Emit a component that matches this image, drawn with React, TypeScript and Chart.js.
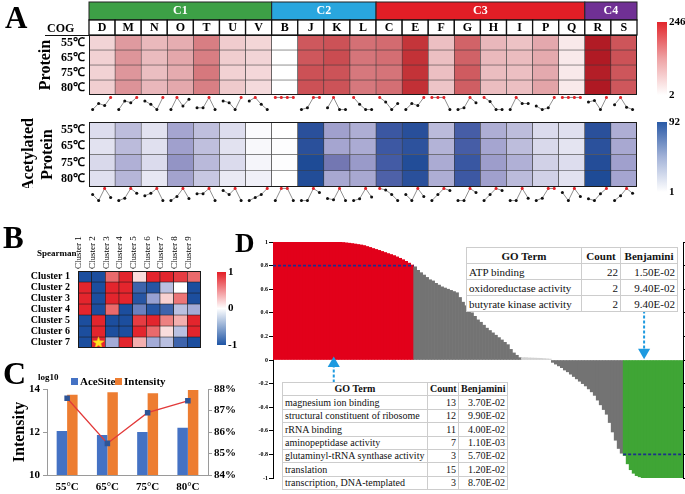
import React, { useEffect, useRef } from 'react';
import { Chart, registerables } from 'chart.js';

Chart.register(...registerables);

const SERIF = "'Liberation Serif', 'Times New Roman', serif";
Chart.defaults.font.family = SERIF;
Chart.defaults.color = '#000';
Chart.defaults.layout.autoPadding = false;

// ---------------- Panel A data ----------------
const cogGroupNames = ['C1', 'C2', 'C3', 'C4'];
const cogGroupColors = ['#3DA046', '#29A6DE', '#E21E26', '#703094'];
const cogLetters = ['D', 'M', 'N', 'O', 'T', 'U', 'V', 'B', 'J', 'K', 'L', 'C', 'E', 'F', 'G', 'H', 'I', 'P', 'Q', 'R', 'S'];
const cogGroupIndex = [0, 0, 0, 0, 0, 0, 0, 1, 1, 1, 1, 2, 2, 2, 2, 2, 2, 2, 2, 3, 3];
const tempLabels = ['55℃', '65℃', '75℃', '80℃'];
const proteinRange = [2, 246];
const acetylRange = [1, 92];
// [COG][55,65,75,80]
const proteinValues = [
  [49, 52, 51, 55],
  [108, 113, 112, 115],
  [76, 74, 71, 78],
  [88, 95, 90, 94],
  [134, 134, 140, 133],
  [57, 56, 52, 59],
  [47, 49, 45, 42],
  [2, 2, 2, 2],
  [170, 171, 177, 177],
  [176, 182, 175, 175],
  [147, 143, 140, 140],
  [152, 149, 144, 148],
  [206, 209, 208, 212],
  [70, 70, 70, 65],
  [160, 161, 167, 164],
  [78, 76, 72, 72],
  [67, 73, 70, 70],
  [93, 91, 92, 98],
  [26, 26, 26, 26],
  [243, 244, 238, 246],
  [173, 176, 172, 171],
];
const acetylValues = [
  [15, 13, 17, 14],
  [31, 32, 36, 34],
  [13, 14, 16, 11],
  [40, 42, 46, 41],
  [30, 30, 33, 26],
  [15, 13, 16, 10],
  [3, 4, 5, 7],
  [1, 2, 2, 1],
  [86, 86, 92, 90],
  [42, 40, 56, 39],
  [37, 38, 44, 39],
  [77, 76, 73, 69],
  [87, 84, 90, 86],
  [32, 35, 38, 37],
  [72, 72, 78, 76],
  [37, 40, 43, 42],
  [31, 31, 36, 32],
  [16, 17, 21, 21],
  [14, 12, 15, 13],
  [86, 85, 89, 92],
  [37, 39, 42, 40],
];

// ---------------- Panel B data ----------------
const clusterCols = ['Cluster 1', 'Cluster 2', 'Cluster 3', 'Cluster 4', 'Cluster 5', 'Cluster 6', 'Cluster 7', 'Cluster 8', 'Cluster 9'];
const clusterRows = ['Cluster 1', 'Cluster 2', 'Cluster 3', 'Cluster 4', 'Cluster 5', 'Cluster 6', 'Cluster 7'];
const spearman = [
  [-1, -1, 0.65, 0.95, 0.15, 0.95, 0.95, 0.85, 0.65],
  [0.95, -1, 0.95, 0.95, -0.85, -0.95, -0.3, 0, -1],
  [0.95, -1, 0.95, 0.95, -0.95, -0.45, 0.2, 0.6, -1],
  [0.95, -1, 0.65, -1, -0.65, -0.95, -0.85, -0.3, -0.4],
  [-1, 0.95, -1, -1, 0.85, 0.95, 0.55, 0.35, 0.95],
  [-1, 0.95, -1, -1, 0.95, 0.65, 0.15, -0.3, 0.95],
  [-1, 0.95, -0.4, 0.95, 0.35, -0.4, -0.3, -0.85, -1],
];
const starColumn = 'Cluster 2';
const starRow = 'Cluster 7';

// ---------------- Panel C data ----------------
const cTemps = ['55°C', '65°C', '75°C', '80°C'];
const cSeriesNames = ['AceSite', 'Intensity'];
const cSeriesColors = ['#4472C4', '#ED7D31'];
const aceSiteLog = [12.05, 11.86, 12.0, 12.2];
const intensityLog = [13.73, 13.85, 13.8, 13.95];
const acetylRatio = [87.57, 85.47, 86.9, 87.45];

// ---------------- Panel D data ----------------
const dRed = [1, 1, 1, 1, 1, 1, 1, 1, 1, 1, 1, 1, 1, 1, 1, 1, 1, 1, 1, 1, 1, 1,
  0.998, 0.996, 0.993, 0.99, 0.987, 0.983, 0.979, 0.975, 0.97, 0.962, 0.954, 0.945, 0.937, 0.929,
  0.92, 0.911, 0.902, 0.894, 0.885, 0.874, 0.862, 0.85, 0.836, 0.821, 0.805];
const dGrayPos = [0.79, 0.76, 0.74, 0.72, 0.7, 0.68, 0.67, 0.65, 0.635, 0.62, 0.61, 0.6, 0.59, 0.58, 0.57,
  0.53, 0.49, 0.46, 0.43, 0.4, 0.37, 0.34, 0.32, 0.295, 0.27, 0.25, 0.23, 0.21, 0.19, 0.17, 0.15, 0.13,
  0.09, 0.06, 0.04, 0.02];
const dNearZero = [0.02, 0.02, 0.018, 0.017, 0.016, 0.015, 0.014, 0.012, 0.01, 0.008];
const dGrayNeg = [-0.02, -0.035, -0.05, -0.065, -0.085, -0.1, -0.12, -0.14, -0.16, -0.18, -0.2, -0.22,
  -0.245, -0.27, -0.3, -0.34, -0.38, -0.42, -0.46, -0.53, -0.61, -0.68, -0.75, -0.79];
const dGreen = [-0.81, -0.88, -0.93, -0.96, -0.98, -0.99, -1, -1, -1, -1, -1, -1, -1, -1, -1, -1, -1, -1, -1, -1];
const dThreshold = [0.8, -0.8];
const dArrowDown = [123.5, 0.42, 0.065];
const dArrowUp = [19.8, -0.19, -0.03];

const goTopTerms = ['ATP binding', 'oxidoreductase activity', 'butyrate kinase activity'];
const goTopCounts = [22, 2, 2];
const goTopBenj = ['1.50E-02', '9.40E-02', '9.40E-02'];
const goBottomTerms = ['magnesium ion binding', 'structural constituent of ribosome', 'rRNA binding', 'aminopeptidase activity', 'glutaminyl-tRNA synthase activity', 'translation', 'transcription, DNA-templated'];
const goBottomCounts = [13, 12, 11, 7, 3, 15, 3];
const goBottomBenj = ['3.70E-02', '9.90E-02', '4.00E-02', '1.10E-03', '5.70E-02', '1.20E-02', '8.70E-02'];

// ---------------- helpers ----------------
const proteinStops = [[0, 255, 255, 255], [0.2, 242, 210, 212], [0.45, 222, 150, 155], [0.7, 205, 85, 90], [0.85, 195, 50, 55], [1, 175, 25, 35]];
const acetylStops = [[0, 255, 255, 255], [0.15, 222, 222, 238], [0.35, 185, 185, 218], [0.45, 160, 160, 205], [0.62, 110, 115, 175], [0.8, 65, 90, 165], [1, 30, 75, 150]];
const corrStops = [[0, 28, 78, 158], [0.25, 140, 150, 205], [0.5, 255, 255, 255], [0.75, 238, 140, 140], [1, 226, 26, 34]];

function lerpColor(stops: number[][], t: number) {
  const tt = Math.max(0, Math.min(1, t));
  for (let i = 1; i < stops.length; i++) {
    if (tt <= stops[i][0]) {
      const a = stops[i - 1], b = stops[i];
      const f = (tt - a[0]) / (b[0] - a[0] || 1);
      const c = [1, 2, 3].map((k) => Math.round(a[k] + (b[k] - a[k]) * f));
      return `rgb(${c[0]},${c[1]},${c[2]})`;
    }
  }
  const l = stops[stops.length - 1];
  return `rgb(${l[1]},${l[2]},${l[3]})`;
}

// force exact axis boxes (no auto label padding)
const fixV = (w: number) => (a: any) => {
  a.width = w;
  a.paddingTop = 0;
  a.paddingBottom = 0;
};
const fixH = (h?: number) => (a: any) => {
  if (h !== undefined) a.height = h;
  a.paddingLeft = 0;
  a.paddingRight = 0;
};

const framePlugin = {
  id: 'frame',
  afterDatasetsDraw(chart: any) {
    const { ctx, chartArea: ca } = chart;
    ctx.save();
    ctx.strokeStyle = '#1a1a1a';
    ctx.lineWidth = 1;
    ctx.strokeRect(Math.round(ca.left) + 0.5, Math.round(ca.top) + 0.5, Math.round(ca.width) - 1, Math.round(ca.height) - 1);
    ctx.restore();
  },
};

const cogHeaderPlugin = {
  id: 'cogHeader',
  afterDraw(chart: any) {
    const { ctx, chartArea: ca } = chart;
    const x = chart.scales.x;
    const step = x.getPixelForValue(1) - x.getPixelForValue(0);
    const top = ca.top;
    ctx.save();
    ctx.textBaseline = 'middle';
    ctx.font = `bold 12px ${SERIF}`;
    cogGroupNames.forEach((name, g) => {
      const idx = cogGroupIndex.map((gi, i) => (gi === g ? i : -1)).filter((i) => i >= 0);
      const l = x.getPixelForValue(idx[0]) - step / 2;
      const r = x.getPixelForValue(idx[idx.length - 1]) + step / 2;
      ctx.fillStyle = cogGroupColors[g];
      ctx.fillRect(l, top - 33, r - l, 18);
      ctx.strokeStyle = '#222';
      ctx.lineWidth = 1;
      ctx.strokeRect(l, top - 33, r - l, 18);
      ctx.fillStyle = '#fff';
      ctx.textAlign = 'center';
      ctx.fillText(name, (l + r) / 2, top - 24);
    });
    cogLetters.forEach((L, i) => {
      const cx = x.getPixelForValue(i);
      ctx.fillStyle = '#fff';
      ctx.fillRect(cx - step / 2, top - 15, step, 15);
      ctx.strokeStyle = '#111';
      ctx.lineWidth = 1.3;
      ctx.strokeRect(cx - step / 2, top - 15, step, 15);
      ctx.fillStyle = '#000';
      ctx.textAlign = 'center';
      ctx.fillText(L, cx, top - 7);
    });
    ctx.strokeStyle = '#111';
    ctx.lineWidth = 1;
    ctx.beginPath();
    ctx.moveTo(45, top + 0.5);
    ctx.lineTo(ca.left, top + 0.5);
    ctx.stroke();
    ctx.restore();
  },
};

function heatmapConfig(o: any) {
  const nRows = o.rowLabels.length;
  return {
    type: 'bar',
    data: {
      labels: o.colLabels,
      datasets: [
        ...(o.extra || []),
        ...o.rowLabels.map((lab: string, r: number) => ({
          label: lab,
          data: o.colLabels.map(() => [r, r + 1]),
          backgroundColor: o.colLabels.map((_: any, c: number) => o.colorOf(o.cell(c, r))),
          borderColor: o.borderColor,
          borderWidth: o.borderWidth,
          borderSkipped: false,
          grouped: false,
          categoryPercentage: 1,
          barPercentage: 1,
        })),
      ],
    },
    options: {
      animation: false,
      responsive: false,
      layout: { padding: o.padding, autoPadding: false },
      plugins: { legend: { display: false }, tooltip: { enabled: false } },
      scales: {
        x: o.xScale || { display: false, afterFit: fixH() },
        y: {
          min: 0,
          max: nRows,
          reverse: true,
          afterBuildTicks: (a: any) => {
            a.ticks = o.rowLabels.map((_: any, i: number) => ({ value: i + 0.5 }));
          },
          afterFit: fixV(o.axisWidth),
          grid: { display: false, drawTicks: false },
          border: { display: false },
          ticks: {
            autoSkip: false,
            padding: o.tickPadding,
            font: o.tickFont,
            color: '#000',
            callback: (v: number) => o.rowLabels[Math.floor(v)],
          },
          title: o.title || { display: false },
        },
      },
    },
    plugins: [framePlugin, ...(o.plugins || [])],
  };
}

const sparkOffsets = [0.14, 0.37, 0.6, 0.83];
function sparkConfig(values: number[][]) {
  return {
    type: 'line',
    data: {
      datasets: values.map((vals, i) => {
        const mn = Math.min(...vals);
        const mx = Math.max(...vals);
        const norm = vals.map((v) => (mx === mn ? 1 : (v - mn) / (mx - mn)));
        return {
          data: norm.map((n, k) => ({ x: i + sparkOffsets[k], y: n })),
          borderColor: '#8f8f8f',
          borderWidth: 1,
          pointRadius: 1.5,
          pointBorderWidth: 0,
          pointBackgroundColor: norm.map((n) => (n === 1 ? '#e3262b' : '#111')),
        };
      }),
    },
    options: {
      animation: false,
      responsive: false,
      layout: { padding: 0, autoPadding: false },
      plugins: { legend: { display: false }, tooltip: { enabled: false } },
      scales: {
        x: { type: 'linear', min: 0, max: values.length, display: false, afterFit: fixH() },
        y: { min: -0.12, max: 1.12, display: false, afterFit: fixV(0) },
      },
    },
  };
}

function colorbarConfig(range: number[], grad: [number, string][], tickVals: number[], padding: any, axisWidth: number, fontSize: number) {
  return {
    type: 'bar',
    data: {
      labels: [''],
      datasets: [
        {
          data: [[range[0], range[1]]],
          backgroundColor: (c: any) => {
            const ca = c.chart.chartArea;
            if (!ca) return '#fff';
            const g = c.chart.ctx.createLinearGradient(0, ca.bottom, 0, ca.top);
            grad.forEach(([o, col]) => g.addColorStop(o, col));
            return g;
          },
          borderWidth: 0,
          categoryPercentage: 1,
          barPercentage: 1,
        },
      ],
    },
    options: {
      animation: false,
      responsive: false,
      layout: { padding, autoPadding: false },
      plugins: { legend: { display: false }, tooltip: { enabled: false } },
      scales: {
        x: { display: false, afterFit: fixH() },
        y: {
          position: 'right',
          min: range[0],
          max: range[1],
          afterBuildTicks: (a: any) => {
            a.ticks = tickVals.map((v) => ({ value: v }));
          },
          afterFit: fixV(axisWidth),
          grid: { display: false, drawTicks: false },
          border: { display: false },
          ticks: { autoSkip: false, padding: 2, font: { size: fontSize, weight: 'bold' }, color: '#000' },
        },
      },
    },
  };
}

function makeStar() {
  const c = document.createElement('canvas');
  c.width = 13;
  c.height = 13;
  const g = c.getContext('2d')!;
  g.beginPath();
  for (let i = 0; i < 10; i++) {
    const r = i % 2 === 0 ? 6 : 2.5;
    const a = -Math.PI / 2 + (i * Math.PI) / 5;
    const px = 6.5 + r * Math.cos(a);
    const py = 6.8 + r * Math.sin(a);
    if (i === 0) g.moveTo(px, py);
    else g.lineTo(px, py);
  }
  g.closePath();
  g.fillStyle = '#FFE51F';
  g.fill();
  g.strokeStyle = '#F2B01E';
  g.lineWidth = 0.6;
  g.stroke();
  return c;
}

const canvasSpecs = [
  { id: 'pHeat', left: 0, top: 0, w: 640, h: 96 },
  { id: 'pSpark', left: 89, top: 96, w: 548, h: 15 },
  { id: 'aHeat', left: 0, top: 118, w: 640, h: 70 },
  { id: 'aSpark', left: 89, top: 187, w: 548, h: 15 },
  { id: 'pBar', left: 650, top: 14, w: 35, h: 86 },
  { id: 'aBar', left: 650, top: 114, w: 35, h: 83 },
  { id: 'bHeat', left: 0, top: 226, w: 206, h: 124 },
  { id: 'bBar', left: 210, top: 266, w: 30, h: 86 },
  { id: 'cChart', left: 0, top: 370, w: 240, h: 124 },
  { id: 'dChart', left: 240, top: 230, w: 445, h: 258 },
];

function GoTable(p: any) {
  const cell = (align: any, bold = false) => ({
    border: '1px solid #cdcdcd',
    padding: '0 2px',
    textAlign: align,
    fontWeight: bold ? 'bold' : 'normal',
    whiteSpace: 'nowrap' as const,
    overflow: 'hidden',
    height: p.rowH,
    lineHeight: `${p.rowH - 1}px`,
    fontFamily: SERIF,
  });
  return (
    <table
      style={{
        position: 'absolute',
        left: p.left,
        top: p.top,
        borderCollapse: 'collapse',
        tableLayout: 'fixed',
        width: p.widths.reduce((a: number, b: number) => a + b, 0),
        background: '#fff',
        fontFamily: SERIF,
        fontSize: p.fontSize,
        color: '#111',
        border: `1.5px solid ${p.border}`,
      }}
    >
      <colgroup>
        {p.widths.map((w: number, i: number) => (
          <col key={i} style={{ width: w }} />
        ))}
      </colgroup>
      <tbody>
        <tr>
          <th style={cell('center', true)}>GO Term</th>
          <th style={cell('center', true)}>Count</th>
          <th style={cell('center', true)}>Benjamini</th>
        </tr>
        {p.terms.map((t: string, i: number) => (
          <tr key={i}>
            <td style={cell('left')}>{t}</td>
            <td style={cell('right')}>{p.counts[i]}</td>
            <td style={cell('right')}>{p.benj[i]}</td>
          </tr>
        ))}
      </tbody>
    </table>
  );
}

export default function App() {
  const refs = useRef<Record<string, HTMLCanvasElement | null>>({});

  useEffect(() => {
    const r = refs.current;
    const charts: Chart[] = [];
    const mk = (id: string, cfg: any) => charts.push(new Chart(r[id] as HTMLCanvasElement, cfg));

    const pColor = (v: number) => lerpColor(proteinStops, (v - proteinRange[0]) / (proteinRange[1] - proteinRange[0]));
    const aColor = (v: number) => lerpColor(acetylStops, (v - acetylRange[0]) / (acetylRange[1] - acetylRange[0]));

    mk('pHeat', heatmapConfig({
      colLabels: cogLetters,
      rowLabels: tempLabels,
      cell: (c: number, row: number) => proteinValues[c][row],
      colorOf: pColor,
      borderColor: '#3a3a3a',
      borderWidth: 0.6,
      padding: { top: 35, bottom: 1, right: 3, left: 0 },
      axisWidth: 89,
      tickPadding: 4,
      tickFont: { size: 12, weight: 'bold' },
      title: { display: true, text: 'Protein', font: { size: 16, weight: 'bold' }, padding: { top: 36, bottom: 0 }, color: '#000' },
      plugins: [cogHeaderPlugin],
    }));
    mk('pSpark', sparkConfig(proteinValues));
    mk('aHeat', heatmapConfig({
      colLabels: cogLetters,
      rowLabels: tempLabels,
      cell: (c: number, row: number) => acetylValues[c][row],
      colorOf: aColor,
      borderColor: '#3a3a3a',
      borderWidth: 0.6,
      padding: { top: 4, bottom: 1, right: 3, left: 0 },
      axisWidth: 89,
      tickPadding: 4,
      tickFont: { size: 12, weight: 'bold' },
      title: { display: true, text: ['Acetylated', 'Protein'], font: { size: 16, weight: 'bold', lineHeight: 1.2 }, padding: { top: 19, bottom: 0 }, color: '#000' },
    }));
    mk('aSpark', sparkConfig(acetylValues));
    mk('pBar', colorbarConfig(proteinRange, [[0, '#ffffff'], [0.5, '#eea2a4'], [1, '#e2262c']], proteinRange, { top: 8, bottom: 5, left: 7, right: 0 }, 18, 11));
    mk('aBar', colorbarConfig(acetylRange, [[0, '#ffffff'], [0.5, '#a3b3d8'], [1, '#2a5aa6']], acetylRange, { top: 8, bottom: 5, left: 7, right: 0 }, 18, 11));

    const star = makeStar();
    mk('bHeat', heatmapConfig({
      colLabels: clusterCols,
      rowLabels: clusterRows,
      cell: (c: number, row: number) => spearman[row][c],
      colorOf: (v: number) => lerpColor(corrStops, (v + 1) / 2),
      borderColor: '#1a1a1a',
      borderWidth: 0.6,
      padding: { top: 0, bottom: 2, right: 5, left: 0 },
      axisWidth: 78,
      tickPadding: 8,
      tickFont: { size: 10, weight: 'bold' },
      xScale: {
        position: 'top',
        grid: { display: false, drawTicks: false },
        border: { display: false },
        ticks: { minRotation: 90, maxRotation: 90, autoSkip: false, padding: 2, labelOffset: 5, font: { size: 9 }, color: '#000' },
        afterFit: fixH(45),
      },
      extra: [
        {
          type: 'line',
          data: [{ x: starColumn, y: clusterRows.indexOf(starRow) + 0.5 }],
          pointStyle: star,
          pointRadius: 6,
          showLine: false,
        },
      ],
    }));
    mk('bBar', colorbarConfig([-1, 1], [[0, '#1f55a5'], [0.5, '#ffffff'], [1, '#e41e26']], [-1, 0, 1], { top: 6, bottom: 7, left: 7, right: 0 }, 14, 11));

    // Panel C
    mk('cChart', {
      type: 'bar',
      data: {
        labels: cTemps,
        datasets: [
          {
            type: 'line',
            label: 'Ratio',
            data: acetylRatio,
            yAxisID: 'y2',
            borderColor: '#e23a3a',
            borderWidth: 1.3,
            pointStyle: 'rect',
            pointRadius: 3,
            pointBackgroundColor: '#2f5597',
            pointBorderColor: '#2f5597',
          },
          { label: cSeriesNames[0], data: aceSiteLog, backgroundColor: cSeriesColors[0], yAxisID: 'y', categoryPercentage: 0.52, barPercentage: 1 },
          { label: cSeriesNames[1], data: intensityLog, backgroundColor: cSeriesColors[1], yAxisID: 'y', categoryPercentage: 0.52, barPercentage: 1 },
        ],
      },
      options: {
        animation: false,
        responsive: false,
        layout: { padding: { top: 19, left: 0, right: 0, bottom: 0 }, autoPadding: false },
        plugins: { tooltip: { enabled: false }, legend: { display: false } },
        scales: {
          x: { grid: { display: false, drawTicks: false }, border: { color: '#9a9a9a' }, ticks: { font: { size: 11, weight: 'bold' }, padding: 6, color: '#000' }, afterFit: fixH(19) },
          y: {
            position: 'left',
            min: 10,
            max: 14,
            ticks: { stepSize: 2, font: { size: 11, weight: 'bold' }, padding: 3, color: '#000' },
            grid: { drawOnChartArea: false, tickLength: 4, color: '#9a9a9a' },
            border: { color: '#9a9a9a' },
            title: { display: true, text: 'Intensity', font: { size: 16, weight: 'bold' }, padding: { top: 10, bottom: 0 }, color: '#000' },
            afterFit: fixV(47),
          },
          y2: {
            position: 'right',
            min: 84,
            max: 88,
            ticks: { stepSize: 1, callback: (v: number) => v + '%', font: { size: 11, weight: 'bold' }, padding: 2, color: '#000' },
            grid: { drawOnChartArea: false, tickLength: 4, color: '#9a9a9a' },
            border: { color: '#9a9a9a' },
            afterFit: fixV(32),
          },
        },
      },
    });

    // Panel D
    const segs = [
      { vals: dRed, color: '#E2001A' },
      { vals: dGrayPos, color: '#737373' },
      { vals: dNearZero, color: '#d2d2d2' },
      { vals: dGrayNeg, color: '#737373' },
      { vals: dGreen, color: '#3FA535' },
    ];
    const allVals: number[] = [];
    const allColors: string[] = [];
    segs.forEach((s) => s.vals.forEach((v) => { allVals.push(v); allColors.push(s.color); }));
    const total = allVals.length;
    const greenStart = total - dGreen.length;
    const dash = { type: 'line', borderColor: '#1c2f8c', borderDash: [3, 2], borderWidth: 1.6, pointRadius: 0, pointHoverRadius: 0 };
    const arrow = { type: 'line', borderColor: '#1e9ae0', borderDash: [3, 2], borderWidth: 2, pointStyle: 'triangle', pointRadius: [0, 7], pointHoverRadius: 0, pointBackgroundColor: '#1e9ae0', pointBorderColor: '#1e9ae0', pointBorderWidth: 0 };
    mk('dChart', {
      type: 'bar',
      data: {
        datasets: [
          { ...dash, data: [{ x: -0.5, y: dThreshold[0] }, { x: dRed.length - 0.5, y: dThreshold[0] }] },
          { ...dash, data: [{ x: greenStart - 0.5, y: dThreshold[1] }, { x: total - 0.5, y: dThreshold[1] }] },
          { ...arrow, pointRotation: 180, data: [{ x: dArrowDown[0], y: dArrowDown[1] }, { x: dArrowDown[0], y: dArrowDown[2] }] },
          { ...arrow, pointRotation: 0, data: [{ x: dArrowUp[0], y: dArrowUp[1] }, { x: dArrowUp[0], y: dArrowUp[2] }] },
          {
            type: 'bar',
            data: allVals.map((v, i) => ({ x: i, y: v })),
            backgroundColor: allColors,
            borderWidth: 0,
            barPercentage: 1,
            categoryPercentage: 1,
          },
        ],
      },
      options: {
        animation: false,
        responsive: false,
        layout: { padding: { top: 12, bottom: 10, left: 0, right: 0 }, autoPadding: false },
        plugins: { legend: { display: false }, tooltip: { enabled: false } },
        scales: {
          x: { type: 'linear', offset: false, grid: { offset: false }, min: -0.5, max: total - 0.5, display: false, afterFit: fixH() },
          y: {
            min: -1,
            max: 1,
            ticks: { stepSize: 0.2, font: { size: 6, weight: 'bold' }, padding: 1, color: '#000', callback: (v: number) => String(parseFloat(v.toFixed(1))) },
            grid: { drawOnChartArea: false, tickLength: 4, color: '#000' },
            border: { color: '#000' },
            afterFit: fixV(33),
          },
          y2: {
            position: 'right',
            min: -1,
            max: 1,
            ticks: { stepSize: 0.2, display: false },
            grid: { drawOnChartArea: false, tickLength: 3, color: '#000' },
            border: { color: '#000' },
            afterFit: fixV(2),
          },
        },
      },
    });

    return () => charts.forEach((c) => c.destroy());
  }, []);

  const letter = (t: string, left: number, top: number, size: number) => (
    <div style={{ position: 'absolute', left, top, fontSize: size, lineHeight: 1, fontWeight: 'bold', fontFamily: SERIF, color: '#000' }}>{t}</div>
  );
  const legendItem = (i: number, left: number) => (
    <div key={i} style={{ position: 'absolute', left, top: 375, height: 12, display: 'flex', alignItems: 'center', fontSize: 11, fontWeight: 'bold', lineHeight: 1 }}>
      <span style={{ display: 'inline-block', width: 7, height: 7, background: cSeriesColors[i], marginRight: 2 }} />
      {cSeriesNames[i]}
    </div>
  );

  return (
    <div style={{ position: 'absolute', left: 0, top: 0, width: 685, height: 494, background: '#fff', overflow: 'hidden', fontFamily: SERIF }}>
      {canvasSpecs.map((s) => (
        <canvas
          key={s.id}
          ref={(el) => {
            refs.current[s.id] = el;
          }}
          width={s.w}
          height={s.h}
          style={{ position: 'absolute', left: s.left, top: s.top, width: s.w, height: s.h }}
        />
      ))}
      {letter('A', 5, 1.6, 31)}
      {letter('B', 3, 221.5, 31)}
      {letter('C', 3, 357, 32)}
      {letter('D', 235, 230, 27)}
      <div style={{ position: 'absolute', left: 47, top: 22, width: 27, textAlign: 'center', fontSize: 12, lineHeight: '12px', fontWeight: 'bold' }}>COG</div>
      <div style={{ position: 'absolute', left: 37, top: 249, fontSize: 9, lineHeight: 1, fontWeight: 'bold' }}>Spearman</div>
      <div style={{ position: 'absolute', left: 38, top: 373, fontSize: 9, lineHeight: 1, fontWeight: 'bold' }}>log10</div>
      {legendItem(0, 71)}
      {legendItem(1, 115)}
      <GoTable left={466} top={247} widths={[115, 39, 57]} rowH={15} fontSize={11} border="#5b9a4e" terms={goTopTerms} counts={goTopCounts} benj={goTopBenj} />
      <GoTable left={282} top={382} widths={[145, 31, 49]} rowH={12.4} fontSize={10} border="#d9455a" terms={goBottomTerms} counts={goBottomCounts} benj={goBottomBenj} />
    </div>
  );
}
